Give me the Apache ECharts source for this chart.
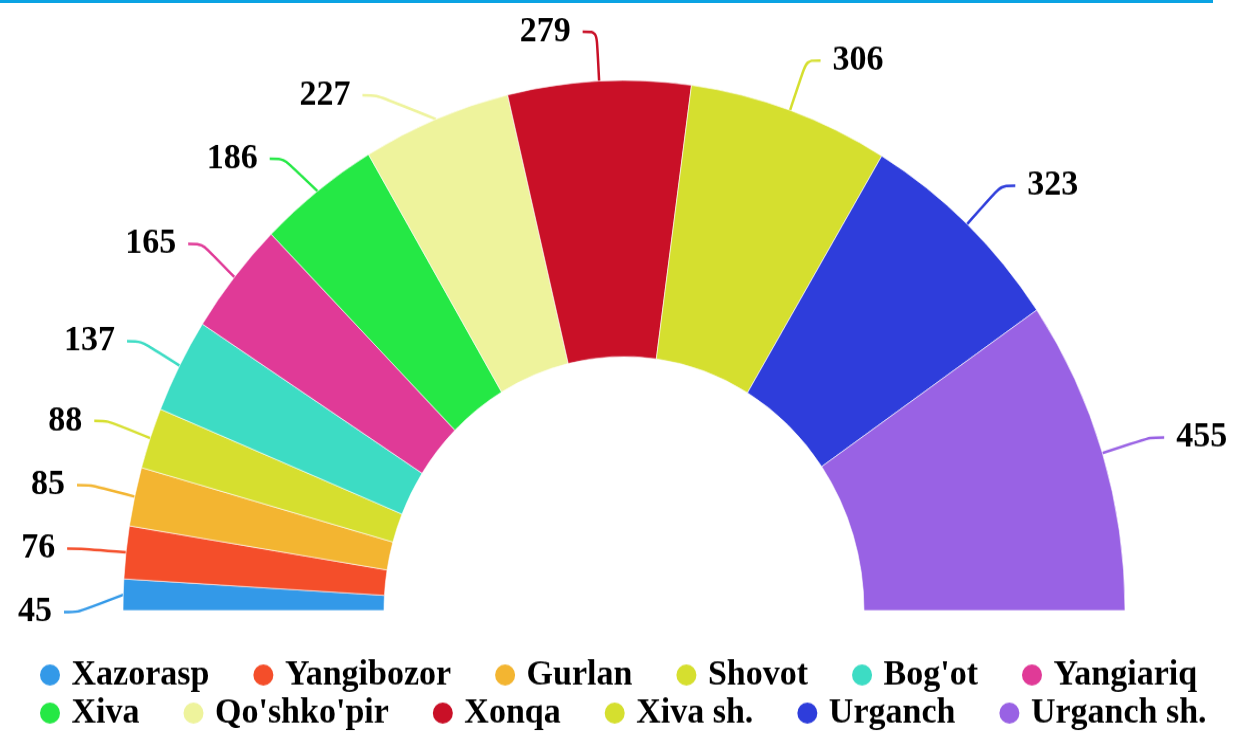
<!DOCTYPE html>
<html>
<head>
<meta charset="utf-8">
<script src="https://cdn.jsdelivr.net/npm/echarts@6/dist/echarts.min.js"></script>
<style>
  html { overflow: hidden; }
  body { margin: 0; padding: 0; background: #fff; height: 731px; }
  #topLine { position: absolute; left: 0; top: 0; width: 1213px; height: 3px; background: #0aa3e3; z-index: 2; }
  /* the original picture is stretched a little vertically */
  #chart { width: 1240px; height: 691px; transform: scaleY(1.058); transform-origin: 0 0; }
</style>
</head>
<body>
<div id="topLine"></div>
<div id="chart"></div>
<script>
// districts and counts
const names = ['Xazorasp', 'Yangibozor', 'Gurlan', 'Shovot', "Bog'ot", 'Yangiariq',
  'Xiva', "Qo'shko'pir", 'Xonqa', 'Xiva sh.', 'Urganch', 'Urganch sh.']
const values = [45, 76, 85, 88, 137, 165, 186, 227, 279, 306, 323, 455]
const colors = ['#3399e8', '#f44e2a', '#f3b531', '#d6df2f', '#3ddcc4', '#e03a97',
  '#25e845', '#eef39c', '#c91027', '#d5df2f', '#2e3ddb', '#9962e4']

const myChart = echarts.init(document.getElementById('chart'))

// legend in two rows of six
const legendRow = (data, top) => ({
  data,
  top,
  left: 38,
  icon: 'circle',
  itemWidth: 23,
  itemHeight: 22,
  itemGap: 42,
  padding: 0,
  textStyle: {
    fontFamily: 'Liberation Serif',
    fontWeight: 'bold',
    fontSize: 34,
    lineHeight: 34,
    color: '#000',
    padding: [0, 0, 0, 5]
  }
})

const option = {
  color: colors,
  textStyle: { fontFamily: 'Liberation Serif' },
  legend: [
    legendRow(names.slice(0, 6), 621),
    legendRow(names.slice(6), 657)
  ],
  series: [
    {
      type: 'pie',
      center: [624, 577],
      radius: [240, 501],
      startAngle: 180,
      endAngle: 360,
      clockwise: true,
      avoidLabelOverlap: true,
      itemStyle: { borderColor: '#fff', borderWidth: 0.6 },
      label: {
        show: true,
        formatter: '{c}',
        fontFamily: 'Liberation Serif',
        fontWeight: 'bold',
        fontSize: 34,
        lineHeight: 34,
        padding: [24, 7, 0, 7],
        overflow: 'none',
        color: '#000'
      },
      labelLine: {
        show: true,
        length: 50,
        length2: 14,
        smooth: 0.3,
        lineStyle: { width: 2.5 }
      },
      data: names.map((n, i) => ({ name: n, value: values[i] }))
    }
  ]
}

myChart.setOption(option)
</script>
</body>
</html>
